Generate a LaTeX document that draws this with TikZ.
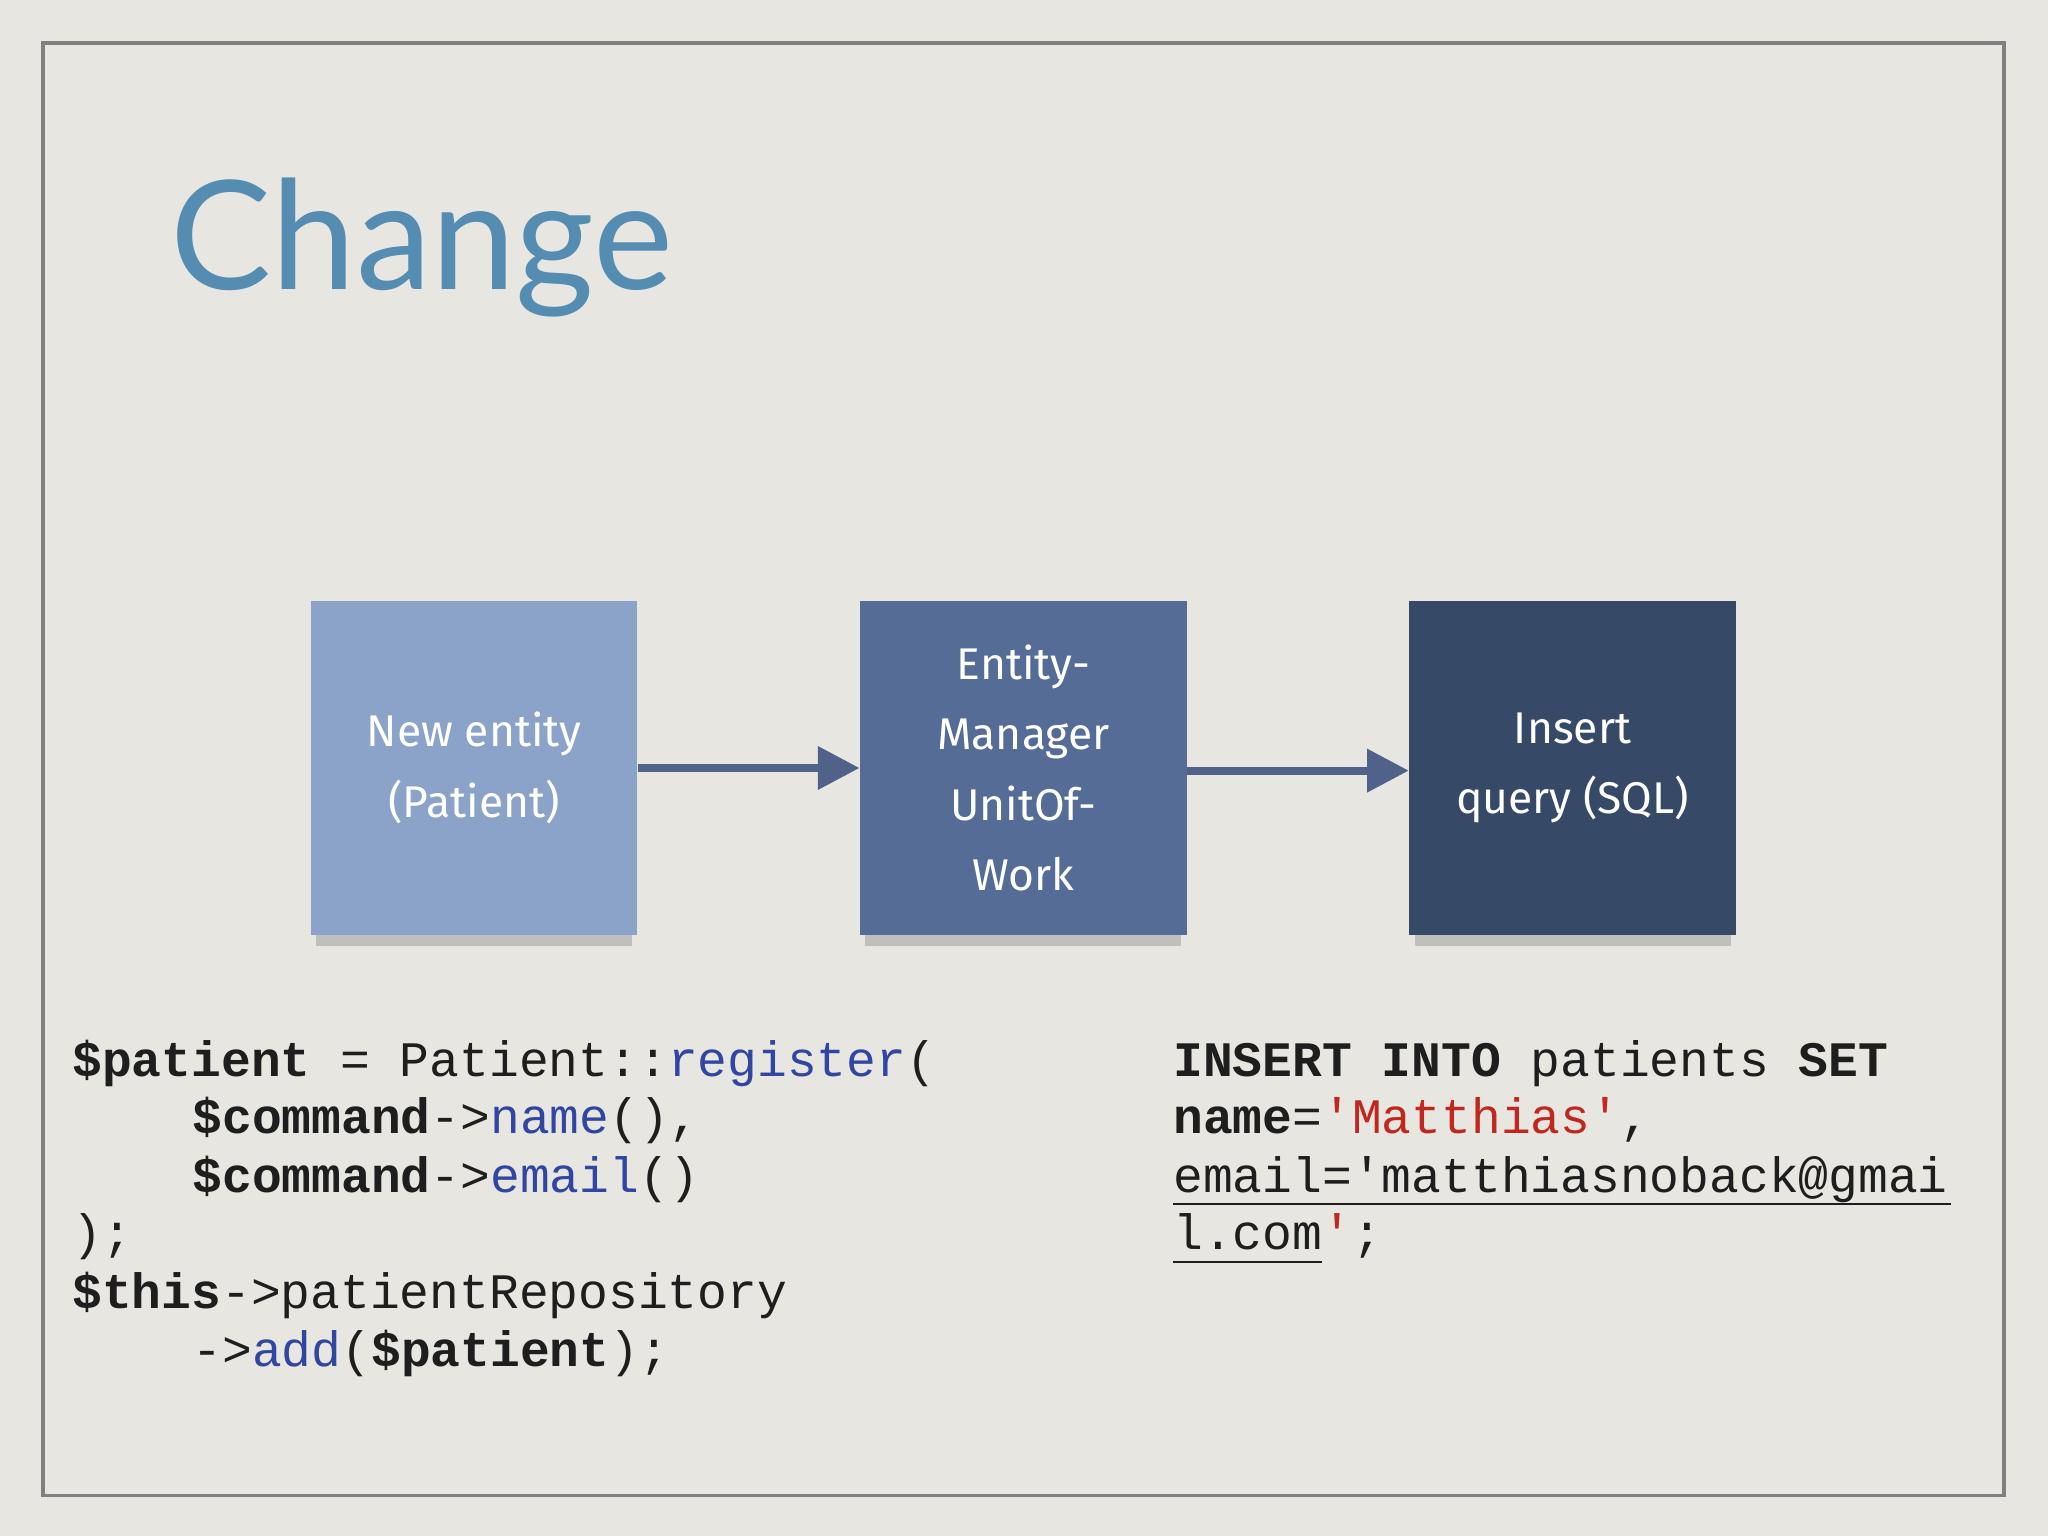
\documentclass[tikz,border=0pt]{standalone}
\usepackage{fontspec}
\setmainfont{Lato}
\setmonofont{Liberation Mono}
\newfontfamily\boxfont{Fira Sans}
\usetikzlibrary{arrows.meta}
\definecolor{bg}{RGB}{231,230,225}
\definecolor{frame}{RGB}{128,128,128}
\definecolor{titleblue}{RGB}{84,140,178}
\definecolor{bA}{RGB}{139,163,201}
\definecolor{bB}{RGB}{84,108,150}
\definecolor{bC}{RGB}{54,73,102}
\definecolor{arr}{RGB}{78,98,138}
\definecolor{kw}{RGB}{48,70,160}
\definecolor{str}{RGB}{190,40,30}
\definecolor{txt}{RGB}{30,30,30}
\tikzset{
 sq/.style={minimum width=125pt,minimum height=128pt,inner sep=0pt,text=white,font=\boxfont\fontsize{17}{27}\selectfont,align=center,
   postaction={}},
 cl/.style={anchor=base west,inner sep=0pt,font=\ttfamily\fontsize{19}{22}\selectfont,text=txt},
 ar/.style={draw=arr,line width=3pt,-{Triangle[length=16pt,width=16pt]}}
}
\begin{document}
\begin{tikzpicture}[x=0.5pt,y=-0.5pt]
\fill[bg] (0,0) rectangle (1568,1176);
\draw[frame,line width=1.5pt] (33,33) rectangle (1534,1145);
\node[anchor=base west,inner sep=0pt,text=titleblue,font=\fontsize{58}{60}\selectfont] (title) at (130,222) {Change};
% shadows
\foreach \x in {238,658,1079}{\fill[black!40,opacity=0.5] (\x+4,716) rectangle (\x+246,724);}
\node[sq,fill=bA] (b1) at (363,588) {New entity\\(Patient)};
\node[sq,fill=bB] (b2) at (783.5,588) {Entity-\\Manager\\UnitOf-\\Work};
\node[sq,fill=bC] (b3) at (1204,588) {Insert\\query (SQL)};
\draw[ar] (b1.east) -- (b2.west);
\draw[ar] ([yshift=-1pt]b2.east) -- ([yshift=-1pt]b3.west);
% code
\node[cl] (c1) at (55,824) {\textbf{\$patient} = Patient::\textcolor{kw}{register}(};
\node[cl] (c2) at (147,868) {\textbf{\$command}->\textcolor{kw}{name}(),};
\node[cl] (c3) at (147,913) {\textbf{\$command}->\textcolor{kw}{email}()};
\node[cl] (c4) at (55,957) {);};
\node[cl] (c5) at (55,1002) {\textbf{\$this}->patientRepository};
\node[cl] (c6) at (147,1046) {->\textcolor{kw}{add}(\textbf{\$patient});};
% sql
\node[cl] (s1) at (898,824) {\textbf{INSERT INTO} patients \textbf{SET}};
\node[cl] (s2) at (898,868) {\textbf{name}=\textcolor{str}{'Matthias'},};
\node[cl] (s3) at (898,913) {email='matthiasnoback@gmai};
\node[cl] (s4) at (898,957) {l.com\textcolor{str}{'};};
\draw[txt,line width=0.8pt] (898,922) -- (1494,922);
\draw[txt,line width=0.8pt] (898,966) -- (1012,966);
\end{tikzpicture}
\end{document}
